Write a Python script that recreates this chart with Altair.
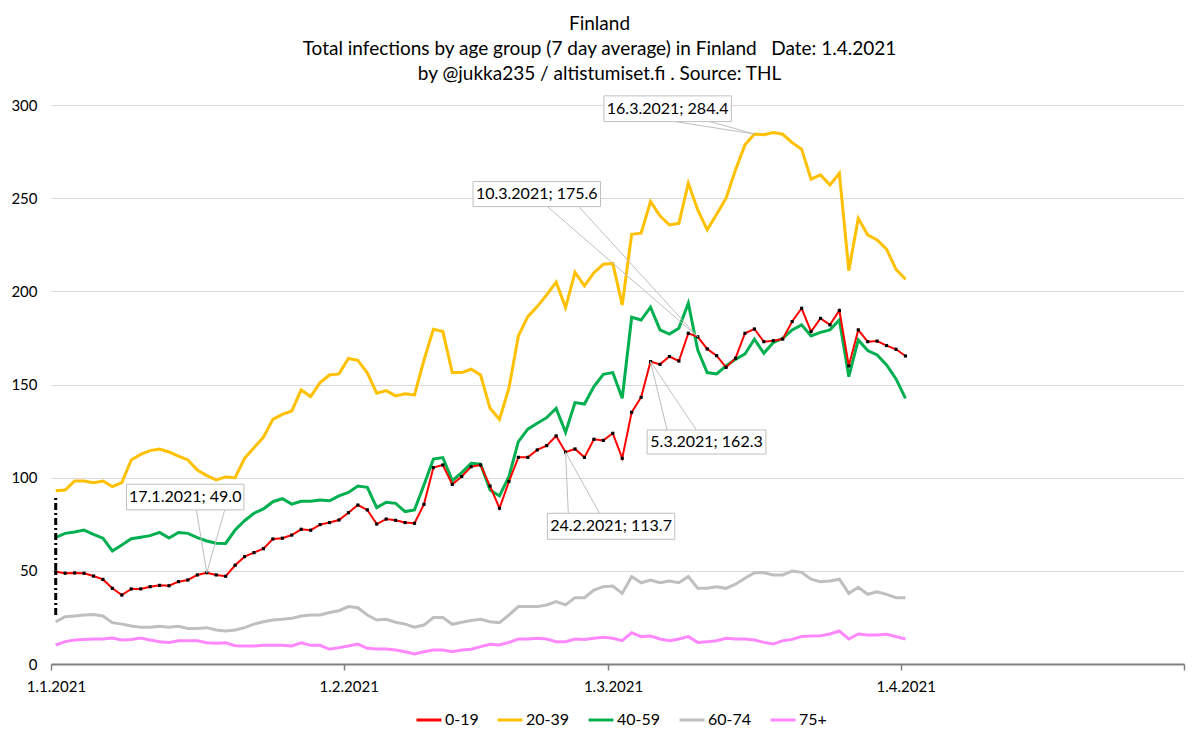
import altair as alt
import pandas as pd

FONT = "Lato"

series_names = ["0-19", "20-39", "40-59", "60-74", "75+"]
series_colors = ["#FF0000", "#FFC000", "#00B050", "#BFBFBF", "#FF88FF"]

v_0_19 = [49.5, 48.7, 48.9, 48.7, 47.2, 45.4, 40.6, 37.0, 40.3, 40.3,
          41.5, 42.2, 42.0, 44.2, 45.1, 47.8, 49.0, 47.8, 47.1, 53.0,
          57.6, 59.8, 61.9, 67.1, 67.5, 69.2, 72.3, 71.8, 74.8, 75.9,
          77.3, 81.2, 85.3, 82.7, 75.1, 77.8, 77.1, 75.9, 75.5, 85.7,
          105.4, 106.8, 96.4, 100.6, 105.9, 106.8, 95.5, 83.6, 97.9, 110.9,
          110.9, 114.9, 117.2, 122.4, 113.7, 115.4, 110.9, 120.6, 120.0, 123.8,
          110.4, 135.1, 143.1, 162.3, 160.8, 165.0, 162.6, 177.5, 175.6, 169.1,
          165.5, 159.2, 164.1, 177.5, 179.8, 173.0, 173.5, 174.4, 183.8, 190.9,
          178.4, 185.5, 182.0, 189.7, 160.0, 179.3, 173.0, 173.3, 170.9, 168.9,
          165.3]
v_20_39 = [93.0, 93.4, 98.2, 98.2, 97.3, 98.2, 95.2, 97.3, 109.5, 112.5,
           114.5, 115.4, 113.8, 111.6, 109.5, 104.1, 101.1, 98.8, 100.4, 100.0,
           110.4, 116.1, 121.7, 131.3, 134.0, 135.8, 147.1, 143.5, 151.0, 155.1,
           155.7, 164.0, 163.0, 156.3, 145.3, 146.7, 143.9, 145.0, 144.4, 163.0,
           179.6, 178.4, 156.4, 156.4, 158.2, 155.1, 137.2, 131.3, 148.0, 176.1,
           186.4, 191.8, 198.1, 204.9, 191.3, 210.2, 202.9, 210.0, 214.5, 215.0,
           192.7, 230.6, 231.2, 248.2, 240.5, 235.6, 236.5, 258.0, 243.7, 233.0,
           241.4, 250.0, 265.2, 278.6, 284.4, 284.0, 285.2, 284.3, 279.8, 276.3,
           260.2, 262.5, 257.1, 263.4, 211.1, 239.2, 230.3, 227.6, 222.6, 211.8,
           206.5]
v_40_59 = [68.0, 70.1, 70.8, 71.9, 69.6, 67.5, 60.7, 63.9, 67.2, 68.0,
           68.9, 70.6, 67.6, 70.6, 70.1, 67.8, 66.0, 64.8, 64.7, 71.9,
           76.9, 80.9, 83.2, 87.1, 88.7, 85.8, 87.3, 87.3, 88.0, 87.6,
           90.2, 92.1, 95.5, 94.8, 83.9, 86.8, 86.2, 81.8, 82.7, 96.1,
           110.0, 110.8, 98.4, 102.7, 107.7, 107.2, 93.4, 90.2, 100.6, 119.3,
           126.0, 129.2, 132.2, 137.2, 124.4, 140.3, 139.5, 148.9, 155.5, 156.4,
           142.6, 186.1, 184.6, 191.5, 179.3, 177.1, 180.2, 193.6, 168.5, 156.4,
           155.7, 160.0, 163.5, 166.4, 174.3, 166.8, 172.5, 174.8, 179.3, 182.0,
           176.1, 178.0, 179.3, 184.6, 154.2, 173.9, 168.2, 165.9, 160.5, 153.0,
           142.6]
v_60_74 = [22.7, 25.4, 25.8, 26.3, 26.6, 25.8, 22.2, 21.4, 20.4, 19.7,
           19.7, 20.2, 19.7, 20.2, 19.1, 19.1, 19.5, 18.3, 17.7, 18.3,
           19.5, 21.4, 22.7, 23.6, 24.0, 24.5, 25.8, 26.3, 26.3, 27.6,
           28.6, 30.8, 30.2, 26.3, 23.6, 24.0, 22.4, 21.4, 19.7, 20.9,
           24.9, 24.9, 21.3, 22.4, 23.3, 24.0, 22.7, 22.2, 26.3, 30.8,
           30.8, 30.8, 31.7, 33.5, 31.7, 35.6, 35.6, 39.7, 41.5, 41.8,
           37.9, 46.9, 43.6, 45.1, 43.6, 44.5, 43.6, 46.9, 40.6, 40.6,
           41.5, 40.6, 42.8, 46.0, 49.0, 49.0, 47.8, 47.8, 49.9, 49.2,
           45.5, 44.2, 44.5, 45.5, 37.9, 41.2, 37.4, 38.8, 37.4, 35.6,
           35.6]
v_75 = [10.2, 12.0, 12.9, 13.2, 13.4, 13.4, 14.0, 12.9, 13.2, 14.0,
        12.9, 12.0, 11.6, 12.5, 12.5, 12.5, 11.4, 11.1, 11.4, 9.8,
        9.7, 9.7, 10.0, 10.0, 10.0, 9.7, 11.4, 10.0, 10.0, 7.9,
        8.8, 9.7, 10.7, 8.4, 8.0, 8.0, 7.5, 6.6, 5.4, 6.6,
        7.5, 7.5, 6.6, 7.5, 7.9, 9.3, 10.6, 10.2, 11.6, 13.4,
        13.4, 13.8, 13.4, 12.0, 12.0, 13.4, 13.2, 13.8, 14.3, 13.8,
        12.5, 16.8, 14.7, 15.0, 13.4, 12.5, 13.4, 14.7, 11.6, 12.0,
        12.5, 13.8, 13.4, 13.4, 12.9, 11.6, 10.7, 12.5, 13.2, 14.7,
        15.0, 15.2, 16.1, 17.7, 13.4, 16.1, 15.6, 15.6, 15.9, 14.7,
        13.4]

tick_days = [0, 31, 59, 90, 120]
tick_labels = ["1.1.2021", "1.2.2021", "1.3.2021", "1.4.2021", ""]

# black dashed marker line on the first day
mark_day = [0]
mark_low = [26.3]
mark_high = [90.7]

# annotations (callouts)
ann_text = ["17.1.2021; 49.0", "10.3.2021; 175.6", "16.3.2021; 284.4",
            "5.3.2021; 162.3", "24.2.2021; 113.7"]
ann_day = [16, 68, 74, 63, 54]
ann_val = [49.0, 175.6, 284.4, 162.3, 113.7]
box_x1 = [8.0, 44.7, 58.56, 63.14, 52.57]
box_x2 = [20.43, 58.2, 72.06, 75.72, 66.07]
box_y1 = [82.7, 245.5, 291.1, 112.7, 66.9]
box_y2 = [96.5, 258.9, 304.9, 125.6, 80.9]
lead_a = [15.4, 52.57, 66.1, 65.25, 54.79]
lead_b = [18.4, 55.9, 69.8, 68.36, 58.1]
lead_y = [82.7, 245.5, 291.1, 125.6, 80.9]

title_lines = ["Finland",
               "Total infections by age group (7 day average) in Finland\u00a0\u00a0\u00a0Date: 1.4.2021",
               "by @jukka235 / altistumiset.fi . Source: THL"]

rows = []
for name, vals in zip(series_names, [v_0_19, v_20_39, v_40_59, v_60_74, v_75]):
    for i, v in enumerate(vals):
        rows.append({"day": i, "series": name, "value": v})
df = pd.DataFrame(rows)

ann_df = pd.DataFrame({
    "label": ann_text, "day": ann_day, "val": ann_val,
    "bx1": box_x1, "bx2": box_x2, "by1": box_y1, "by2": box_y2,
})
lead_rows = []
for i in range(len(ann_text)):
    for lx in (lead_a[i], lead_b[i]):
        lead_rows.append({"lx": lx, "ly": lead_y[i], "px": ann_day[i] + 0.5, "pv": ann_val[i]})
lead_df = pd.DataFrame(lead_rows)
mark_df = pd.DataFrame({"day": mark_day, "low": mark_low, "high": mark_high})

label_expr = ""
for d, l in zip(tick_days, tick_labels):
    label_expr += f"datum.value == {d} ? '{l}' : "
label_expr += "''"

x_scale = alt.Scale(domain=[0, 120], nice=False, zero=False)
y_scale = alt.Scale(domain=[0, 300], nice=False)

x_axis = alt.Axis(values=tick_days, labelExpr=label_expr, title=None, grid=False,
                  domainColor="#808080", domainWidth=2, tickColor="#808080",
                  tickWidth=1.5, tickSize=6, labelFontSize=15, labelFont=FONT,
                  labelColor="#000000", labelPadding=9, labelOffset=5,
                  labelFlush=False, labelOverlap=False)
y_axis = alt.Axis(values=[0, 50, 100, 150, 200, 250, 300], title=None, grid=True,
                  gridColor="#D9D9D9", gridWidth=1, domain=False, ticks=False,
                  labelFontSize=15, labelFont=FONT, labelColor="#000000",
                  labelPadding=14)

color = alt.Color("series:N", scale=alt.Scale(domain=series_names, range=series_colors),
                  legend=alt.Legend(title=None, orient="none", direction="horizontal",
                                    legendX=364, legendY=601, symbolType="stroke",
                                    symbolSize=625, symbolStrokeWidth=3,
                                    labelFontSize=16, labelFont=FONT, labelColor="#000000",
                                    labelOffset=2, columnPadding=12))

base = alt.Chart(df).transform_calculate(xd="datum.day + 0.5")

others = base.transform_filter("datum.series != '0-19'").mark_line(strokeWidth=3).encode(
    x=alt.X("xd:Q", scale=x_scale, axis=x_axis),
    y=alt.Y("value:Q", scale=y_scale, axis=y_axis),
    color=color,
    detail="series:N",
)
red = base.transform_filter("datum.series == '0-19'").mark_line(strokeWidth=2).encode(
    x=alt.X("xd:Q", scale=x_scale),
    y=alt.Y("value:Q", scale=y_scale),
    color=color,
)
markers = base.transform_filter("datum.series == '0-19'").mark_square(
    size=10, color="#000000", opacity=1, filled=True).encode(
    x=alt.X("xd:Q", scale=x_scale),
    y=alt.Y("value:Q", scale=y_scale),
)

dash = alt.Chart(mark_df).transform_calculate(xd="datum.day + 0.5").mark_rule(
    color="#000000", strokeWidth=3, strokeDash=[7, 3, 2, 3]).encode(
    x=alt.X("xd:Q", scale=x_scale),
    y=alt.Y("low:Q", scale=y_scale),
    y2="high:Q",
)

leaders = alt.Chart(lead_df).mark_rule(color="#BFBFBF", strokeWidth=1).encode(
    x=alt.X("lx:Q", scale=x_scale),
    y=alt.Y("ly:Q", scale=y_scale),
    x2="px:Q",
    y2="pv:Q",
)
boxes = alt.Chart(ann_df).mark_rect(fill="#FFFFFF", stroke="#BFBFBF", strokeWidth=1).encode(
    x=alt.X("bx1:Q", scale=x_scale),
    x2="bx2:Q",
    y=alt.Y("by1:Q", scale=y_scale),
    y2="by2:Q",
)
texts = alt.Chart(ann_df).transform_calculate(
    cx="(datum.bx1 + datum.bx2) / 2", cy="(datum.by1 + datum.by2) / 2"
).mark_text(font=FONT, fontSize=16, color="#000000", align="center", baseline="middle").encode(
    x=alt.X("cx:Q", scale=x_scale),
    y=alt.Y("cy:Q", scale=y_scale),
    text="label:N",
)

chart = alt.layer(others, red, markers, dash, leaders, boxes, texts).properties(
    width=1133,
    height=559,
    title=alt.TitleParams(
        text=title_lines,
        font=FONT, fontSize=19, fontWeight="normal", color="#000000",
        anchor="middle", dx=-18, offset=11, lineHeight=25,
    ),
    autosize=alt.AutoSizeParams(type="none"),
    padding={"left": 43, "top": 97, "right": 8, "bottom": 70},
).configure_view(stroke=None)

chart.save("out.html", embed_options={"renderer": "svg", "actions": False})
